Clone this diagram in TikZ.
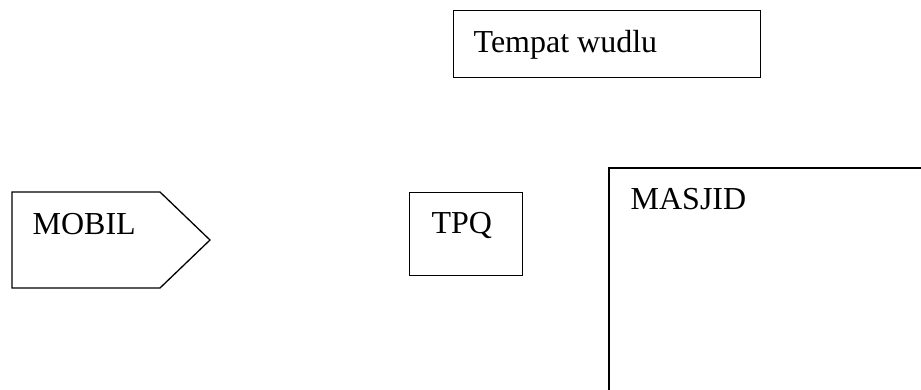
\documentclass[tikz,border=0pt]{standalone}
\usepackage{fontspec}
\setmainfont{Liberation Serif}
\begin{document}
\begin{tikzpicture}[x=1pt,y=-1pt,line width=1.3pt,
  lbl/.style={anchor=base west,inner sep=0pt,font=\fontsize{32}{38}\selectfont},
  boxshape/.style={draw,anchor=north west,inner sep=0pt}]
\useasboundingbox (0,0) rectangle (921,389);
% Tempat wudlu
\node[boxshape,minimum width=307pt,minimum height=67pt] (wudlu) at (453,10) {};
\node[lbl] (wudlut) at (473,52) {Tempat wudlu};
% MOBIL pentagon
\coordinate (m1) at (12,192);
\coordinate (m2) at (160,192);
\coordinate (m3) at (210,240);
\coordinate (m4) at (160,288);
\coordinate (m5) at (12,288);
\draw[line join=miter] (m1) -- (m2) -- (m3) -- (m4) -- (m5) -- cycle;
\node[lbl] (mobil) at (32,234) {MOBIL};
% TPQ
\node[boxshape,minimum width=113pt,minimum height=83pt] (tpq) at (409,192) {};
\node[lbl] (tpqt) at (431,233) {TPQ};
% MASJID
\coordinate (ms1) at (609,400);
\coordinate (ms2) at (609,168);
\coordinate (ms3) at (930,168);
\draw (ms1) -- (ms2) -- (ms3);
\node[lbl] (masjid) at (630,209) {MASJID};
\end{tikzpicture}
\end{document}
